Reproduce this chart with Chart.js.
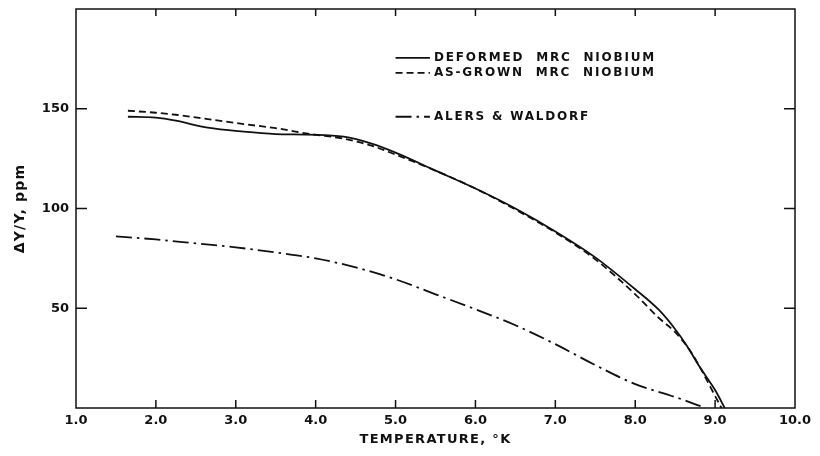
<!DOCTYPE html>
<html>
<head>
<meta charset="utf-8">
<script src="https://cdn.jsdelivr.net/npm/chart.js@4/dist/chart.umd.min.js"></script>
<style>
  html, body { margin: 0; padding: 0; background: #fff; }
  #wrap { width: 820px; height: 456px; }
</style>
</head>
<body>
<div id="wrap"><canvas id="chart" width="820" height="456"></canvas></div>
<script>
"use strict";

// temperature (K) / ΔY/Y (ppm)
const DEF_T = [1.65, 2.0, 2.25, 2.65, 3.1, 3.5, 3.9, 4.35, 4.7, 5.0, 5.5, 6.0, 6.5, 7.0, 7.5, 8.0, 8.3, 8.5, 8.65, 8.8, 9.0, 9.12];
const DEF_Y = [146, 145.5, 144, 140.5, 138.5, 137.3, 137, 136, 132.5, 128, 119, 110, 100, 88.5, 75.5, 59.5, 49, 39.5, 31, 21, 9, 0];

const ASG_T = [1.65, 2.0, 2.25, 2.65, 3.1, 3.5, 3.9, 4.35, 4.7, 5.0, 5.5, 6.0, 6.5, 7.0, 7.5, 8.0, 8.3, 8.5, 8.7, 8.85, 9.0, 9.08];
const ASG_Y = [149, 148, 147, 144.8, 142.3, 140.3, 137.5, 135, 131.5, 127, 119, 110, 99.5, 88, 74.5, 57, 45, 38, 28, 17.5, 6, 0];

const AW_T = [1.5, 2.0, 2.5, 3.0, 3.5, 4.0, 4.5, 5.0, 5.5, 6.0, 6.5, 7.0, 7.5, 8.0, 8.5, 8.88];
const AW_Y = [86, 84.5, 82.5, 80.5, 78, 75, 70.5, 64.5, 57, 49.5, 41.5, 32, 21.5, 12, 5.5, 0];

const SERIES_NAMES = ["DEFORMED  MRC  NIOBIUM", "AS-GROWN  MRC  NIOBIUM", "ALERS & WALDORF"];
const Y_LABELED = [50, 100, 150];
const X_TICKS = [1, 2, 3, 4, 5, 6, 7, 8, 9, 10];
const X_TITLE = "TEMPERATURE, °K";
const Y_TITLE = "ΔY/Y, ppm";

const INK = "#111";
const FONT = "DejaVu Sans";

function pts(xs, ys) {
  return xs.map((x, i) => ({ x, y: ys[i] }));
}

const DASHES = [[], [7, 4], [16, 5, 2.5, 5]];

function mkSet(label, xs, ys, i) {
  return {
    label, data: pts(xs, ys),
    showLine: true, borderColor: INK, borderWidth: 1.8,
    borderDash: DASHES[i], pointRadius: 0,
    cubicInterpolationMode: "monotone", fill: false,
  };
}

// box + inward ticks, like the old drafting style
const frame = {
  id: "frame",
  afterDatasetsDraw(c) {
    const { ctx, chartArea: a } = c;
    const xs = c.scales.x, ys = c.scales.y;
    ctx.save();
    ctx.strokeStyle = INK;
    ctx.lineWidth = 1.5;
    ctx.strokeRect(a.left, a.top, a.right - a.left, a.bottom - a.top);
    ctx.beginPath();
    for (const t of X_TICKS.slice(1, -1)) {
      const px = xs.getPixelForValue(t);
      ctx.moveTo(px, a.bottom); ctx.lineTo(px, a.bottom - 8);
      ctx.moveTo(px, a.top); ctx.lineTo(px, a.top + 7);
    }
    for (const v of Y_LABELED) {
      const py = ys.getPixelForValue(v);
      ctx.moveTo(a.left, py); ctx.lineTo(a.left + 11, py);
      ctx.moveTo(a.right, py); ctx.lineTo(a.right - 11, py);
    }
    ctx.stroke();
    ctx.restore();
  },
};

// axis titles, spaced out like stencil lettering
const titles = {
  id: "titles",
  afterDraw(c) {
    const { ctx, chartArea: a } = c;
    ctx.save();
    ctx.fillStyle = INK;
    ctx.textAlign = "center";
    ctx.textBaseline = "middle";
    ctx.font = "bold 13px '" + FONT + "'";
    ctx.letterSpacing = "1.3px";
    ctx.fillText(X_TITLE, (a.left + a.right) / 2, 440);
    ctx.translate(20, (a.top + a.bottom) / 2);
    ctx.rotate(-Math.PI / 2);
    ctx.font = "bold 14px '" + FONT + "'";
    ctx.letterSpacing = "1.2px";
    ctx.fillText(Y_TITLE, 0, 0);
    ctx.restore();
  },
};

// legend inside the plot, top right
const keyBox = {
  id: "keyBox",
  afterDatasetsDraw(c) {
    const { ctx } = c;
    const xs = c.scales.x, ys = c.scales.y;
    const x0 = xs.getPixelForValue(5.0), x1 = xs.getPixelForValue(5.43);
    const rows = [175.5, 168, 146];
    ctx.save();
    ctx.fillStyle = INK;
    ctx.strokeStyle = INK;
    ctx.lineWidth = 1.8;
    ctx.font = "bold 12px '" + FONT + "'";
    ctx.letterSpacing = "1.8px";
    ctx.textBaseline = "middle";
    rows.forEach((v, i) => {
      const py = ys.getPixelForValue(v);
      ctx.setLineDash(DASHES[i]);
      ctx.beginPath(); ctx.moveTo(x0, py); ctx.lineTo(x1, py); ctx.stroke();
      ctx.fillText(SERIES_NAMES[i], x1 + 4, py);
    });
    ctx.restore();
  },
};

new Chart(document.getElementById("chart"), {
  type: "scatter",
  data: {
    datasets: [
      mkSet(SERIES_NAMES[0], DEF_T, DEF_Y, 0),
      mkSet(SERIES_NAMES[1], ASG_T, ASG_Y, 1),
      mkSet(SERIES_NAMES[2], AW_T, AW_Y, 2),
    ],
  },
  options: {
    responsive: false, animation: false,
    layout: { padding: { left: 0, right: 25, top: 9, bottom: 0 } },
    plugins: { legend: { display: false }, tooltip: { enabled: false } },
    scales: {
      x: {
        type: "linear", min: 1, max: 10,
        afterFit: (s) => { s.height = 48; },
        afterBuildTicks: (s) => { s.ticks = X_TICKS.map((v) => ({ value: v })); },
        ticks: { color: INK, padding: 5, font: { family: FONT, size: 13, weight: "bold" },
                 callback: (v) => v.toFixed(1), maxRotation: 0 },
        grid: { display: false, drawTicks: false },
        border: { display: false },
      },
      y: {
        type: "linear", min: 0, max: 200,
        afterFit: (s) => { s.width = 76; s.paddingTop = 0; s.paddingBottom = 0; },
        afterBuildTicks: (s) => { s.ticks = Y_LABELED.map((v) => ({ value: v })); },
        ticks: { color: INK, padding: 7, font: { family: FONT, size: 13, weight: "bold" } },
        grid: { display: false, drawTicks: false },
        border: { display: false },
      },
    },
  },
  plugins: [frame, keyBox, titles],
});
</script>
</body>
</html>
